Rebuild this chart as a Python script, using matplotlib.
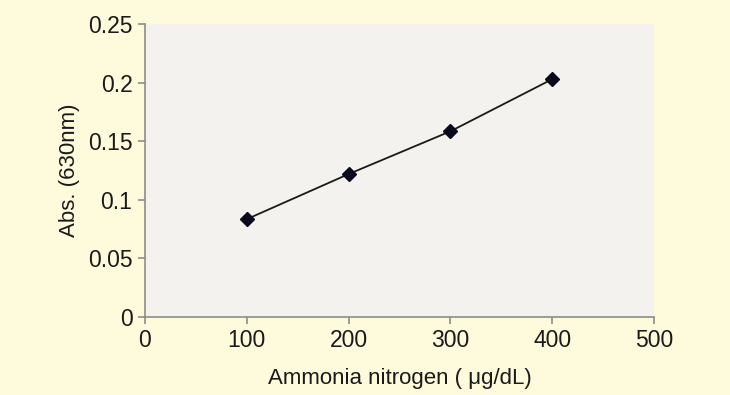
import matplotlib.pyplot as plt

plt.rcParams['font.family'] = ['Liberation Sans', 'DejaVu Sans']

# calibration points
conc = [100, 200, 300, 400]
absorb = [0.0835, 0.122, 0.1585, 0.203]

x_ticks = [0, 100, 200, 300, 400, 500]
y_ticks = [0, 0.05, 0.1, 0.15, 0.2, 0.25]
y_labels = ['0', '0.05', '0.1', '0.15', '0.2', '0.25']

fig = plt.figure(figsize=(7.3, 3.95), dpi=100, facecolor='#fefadc')
ax = fig.add_axes([0.1986, 0.1975, 0.6974, 0.7415])
ax.set_facecolor('#f3f2ee')

ax.plot(conc, absorb, color='#1a1a1a', lw=1.3, zorder=2)
ax.plot(conc, absorb, 'D', color='#0a0a1e', ms=7, zorder=3)

ax.set_xlim(0, 500)
ax.set_ylim(0, 0.25)
ax.set_xticks(x_ticks)
ax.set_yticks(y_ticks)
ax.set_yticklabels(y_labels)

for s in ['top', 'right']:
    ax.spines[s].set_visible(False)
for s in ['left', 'bottom']:
    ax.spines[s].set_color('#8c8c8c')
    ax.spines[s].set_linewidth(1.2)
ax.tick_params(colors='#8c8c8c', labelcolor='#1a1a1a', labelsize=16.5,
               length=5, width=1.2, direction='out', pad=4)

ax.set_xlabel('Ammonia nitrogen ( \u03bcg/dL)', fontsize=16, color='#1a1a1a', labelpad=11)
ax.set_ylabel('Abs. (630nm)', fontsize=16, color='#1a1a1a', labelpad=6)

fig.savefig('out.png', dpi=100, facecolor=fig.get_facecolor())
